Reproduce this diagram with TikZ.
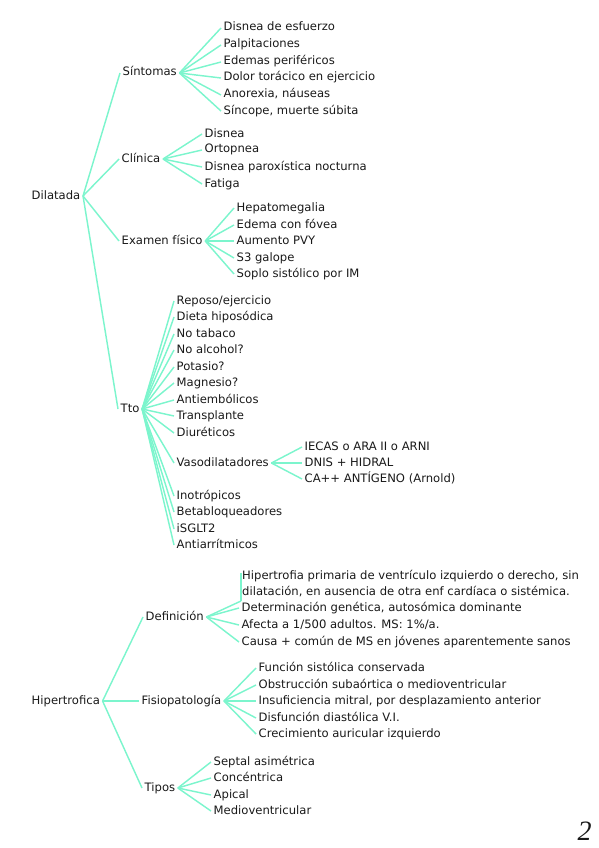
\documentclass[tikz,border=0pt]{standalone}
\usepackage{fontspec}
\setmainfont{DejaVu Sans}
\newfontfamily\pagefont{Liberation Serif}
\definecolor{branch}{RGB}{124,245,205}
\definecolor{ink}{RGB}{25,25,25}
\begin{document}
\begin{tikzpicture}[x=1pt,y=-1pt,
  every node/.style={font=\fontsize{11.6}{16.6}\selectfont, inner xsep=2.5pt, inner ysep=0pt, text height=8.4pt, text depth=2.4pt, anchor=west, text=ink},
  link/.style={draw=branch, line width=1.45pt}]
\useasboundingbox (0,0) rectangle (599,848);
% ---------- Dilatada ----------
\node (dil) at (29,196) {Dilatada};
\node (sin) at (120,73) {Síntomas};
\node (cli) at (119,159) {Clínica};
\node (exa) at (119,241) {Examen físico};
\node (tto) at (118,409) {Tto};
\foreach \c in {sin,cli,exa,tto} \draw[link] (dil.east) -- (\c.west);
% Sintomas
\node (s1) at (221,28) {Disnea de esfuerzo};
\node (s2) at (221,45) {Palpitaciones};
\node (s3) at (221,62) {Edemas periféricos};
\node (s4) at (221,78) {Dolor torácico en ejercicio};
\node (s5) at (221,95) {Anorexia, náuseas};
\node (s6) at (221,111) {Síncope, muerte súbita};
\foreach \c in {s1,s2,s3,s4,s5,s6} \draw[link] (sin.east) -- (\c.west);
% Clinica
\node (c1) at (202,134) {Disnea};
\node (c2) at (202,150) {Ortopnea};
\node (c3) at (202,167) {Disnea paroxística nocturna};
\node (c4) at (202,184) {Fatiga};
\foreach \c in {c1,c2,c3,c4} \draw[link] (cli.east) -- (\c.west);
% Examen fisico
\node (e1) at (234,208) {Hepatomegalia};
\node (e2) at (234,225) {Edema con fóvea};
\node (e3) at (234,241) {Aumento PVY};
\node (e4) at (234,258) {S3 galope};
\node (e5) at (234,274) {Soplo sistólico por IM};
\foreach \c in {e1,e2,e3,e4,e5} \draw[link] (exa.east) -- (\c.west);
% Tto
\node (t1) at (174,301) {Reposo/ejercicio};
\node (t2) at (174,317) {Dieta hiposódica};
\node (t3) at (174,334) {No tabaco};
\node (t4) at (174,350) {No alcohol?};
\node (t5) at (174,367) {Potasio?};
\node (t6) at (174,383) {Magnesio?};
\node (t7) at (174,400) {Antiembólicos};
\node (t8) at (174,416) {Transplante};
\node (t9) at (174,433) {Diuréticos};
\node (vas) at (174,463) {Vasodilatadores};
\node (t11) at (174,496) {Inotrópicos};
\node (t12) at (174,512) {Betabloqueadores};
\node (t13) at (174,529) {iSGLT2};
\node (t14) at (174,545) {Antiarrítmicos};
\foreach \c in {t1,t2,t3,t4,t5,t6,t7,t8,t9,vas,t11,t12,t13,t14} \draw[link] (tto.east) -- (\c.west);
% Vasodilatadores
\node (v1) at (302,447) {IECAS o ARA II o ARNI};
\node (v2) at (302,463) {DNIS + HIDRAL};
\node (v3) at (302,479) {CA++ ANTÍGENO (Arnold)};
\foreach \c in {v1,v2,v3} \draw[link] (vas.east) -- (\c.west);
% ---------- Hipertrofica ----------
\node (hip) at (29,701) {Hipertrofica};
\node (def) at (143,617) {Definición};
\node (fis) at (139,701) {Fisiopatología};
\node (tip) at (142,788) {Tipos};
\foreach \c in {def,fis,tip} \draw[link] (hip.east) -- (\c.west);
% Definicion
\node[align=left, text height=, text depth=] (d1) at (239.5,583.5) {Hipertrofia primaria de ventrículo izquierdo o derecho, sin\\dilatación, en ausencia de otra enf cardíaca o sistémica.};
\coordinate (dtop) at (241,573);
\coordinate (dbot) at (241,601);
\node (d2) at (239,608) {Determinación genética, autosómica dominante};
\node (d3) at (239,625) {Afecta a 1/500 adultos. MS: 1\%/a.};
\node (d4) at (239,642) {Causa + común de MS en jóvenes aparentemente sanos};
\draw[link] (def.east) -- (dbot);
\draw[link] (dtop) -- (dbot);
\foreach \c in {d2,d3,d4} \draw[link] (def.east) -- (\c.west);
% Fisiopatologia
\node (f1) at (256,668) {Función sistólica conservada};
\node (f2) at (256,685) {Obstrucción subaórtica o medioventricular};
\node (f3) at (256,701) {Insuficiencia mitral, por desplazamiento anterior};
\node (f4) at (256,718) {Disfunción diastólica V.I.};
\node (f5) at (256,734) {Crecimiento auricular izquierdo};
\foreach \c in {f1,f2,f3,f4,f5} \draw[link] (fis.east) -- (\c.west);
% Tipos
\node (p1) at (211,762) {Septal asimétrica};
\node (p2) at (211,778) {Concéntrica};
\node (p3) at (211,795) {Apical};
\node (p4) at (211,811) {Medioventricular};
\foreach \c in {p1,p2,p3,p4} \draw[link] (tip.east) -- (\c.west);
% page number
\node[font=\pagefont\itshape\fontsize{28}{28}\selectfont, text height=, text depth=] (pg) at (575,831) {2};
\end{tikzpicture}
\end{document}
